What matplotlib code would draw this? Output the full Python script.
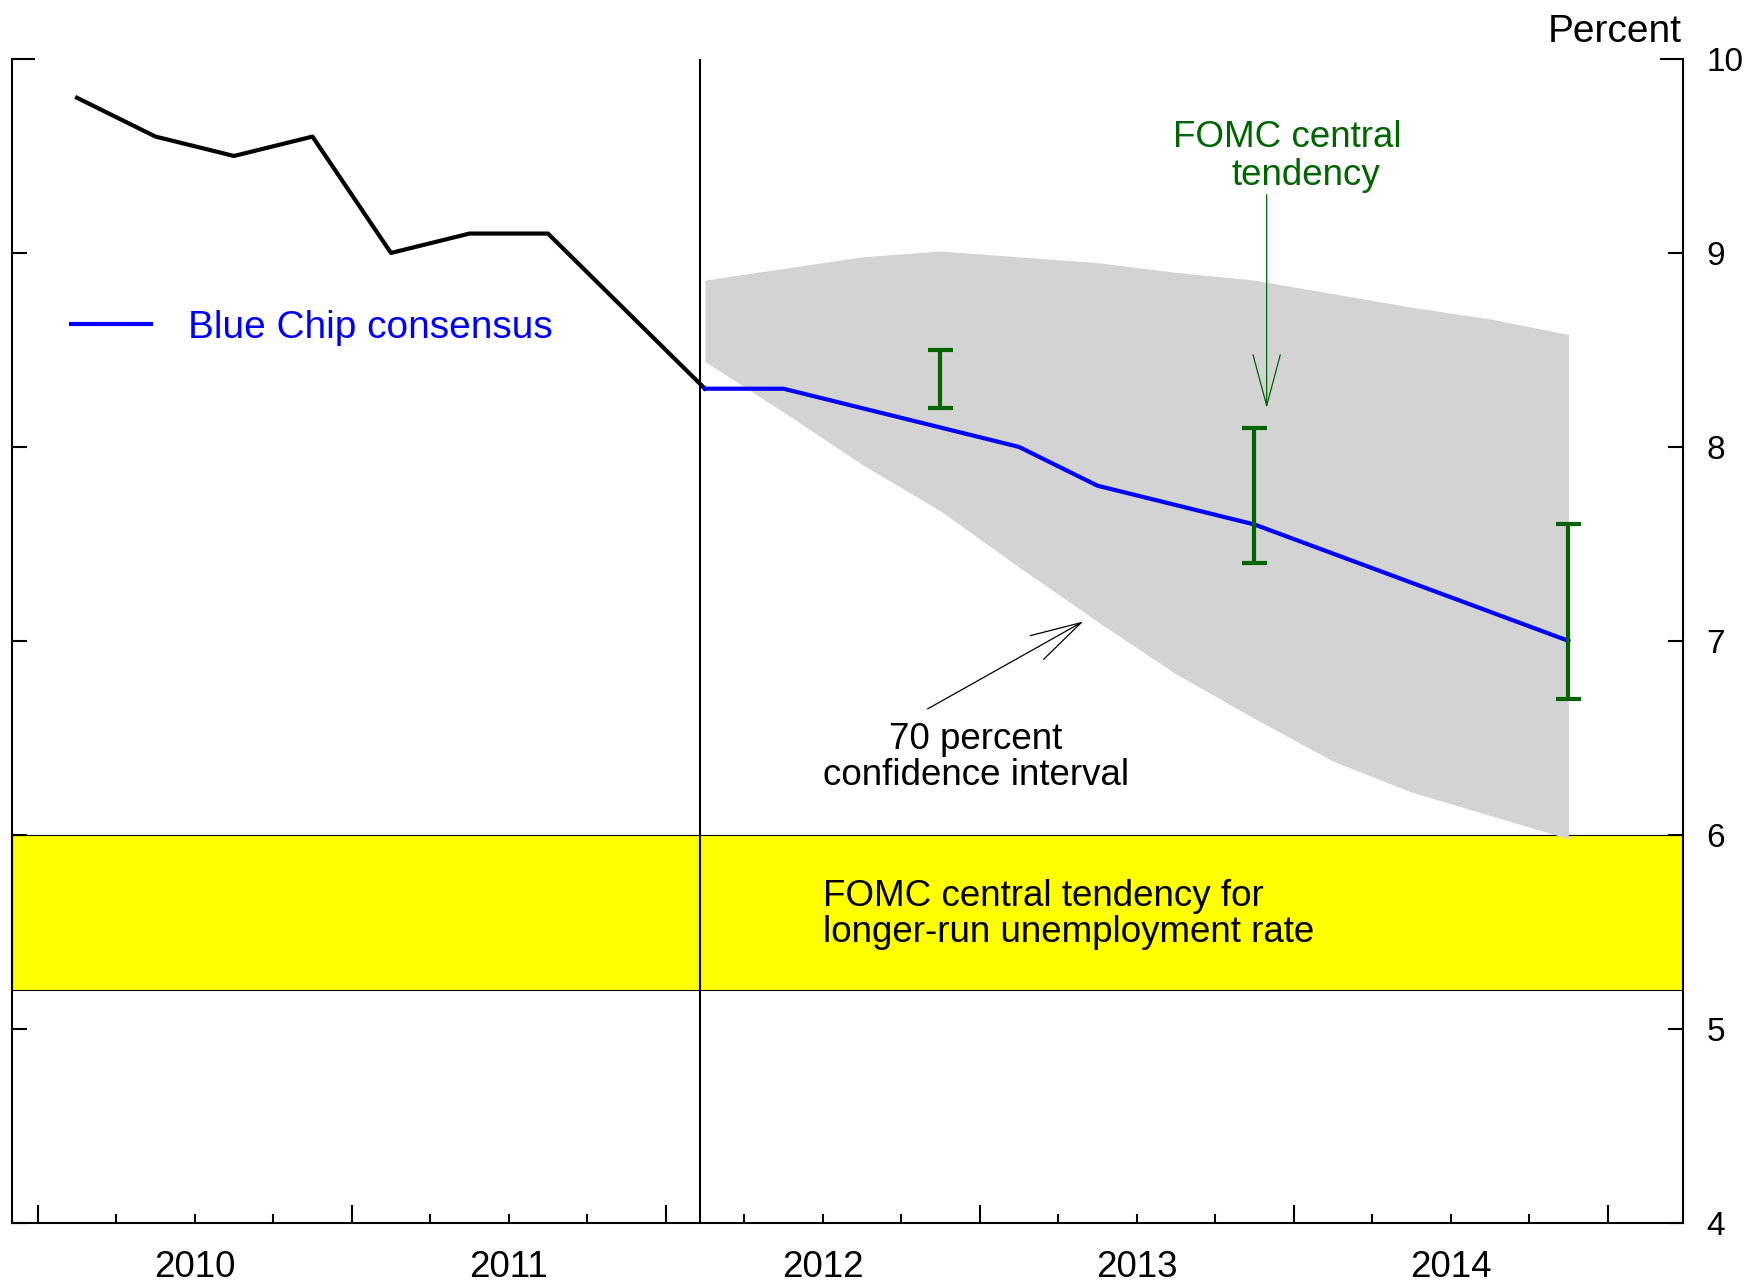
import matplotlib
matplotlib.use('Agg')
import matplotlib.pyplot as plt

plt.rcParams['font.family'] = ['Liberation Sans', 'DejaVu Sans']

# quarterly data, plotted at mid-quarter (fractional years)
hist_x = [2010.125, 2010.375, 2010.625, 2010.875, 2011.125, 2011.375,
          2011.625, 2011.875, 2012.125]
hist_y = [9.8, 9.6, 9.5, 9.6, 9.0, 9.1, 9.1, 8.7, 8.3]

fc_x = [2012.125, 2012.375, 2012.625, 2012.875, 2013.125, 2013.375,
        2013.625, 2013.875, 2014.125, 2014.375, 2014.625, 2014.875]
fc_y = [8.3, 8.3, 8.2, 8.1, 8.0, 7.8, 7.7, 7.6, 7.45, 7.3, 7.15, 7.0]
ci_upper = [8.86, 8.92, 8.98, 9.01, 8.98, 8.95, 8.90, 8.86, 8.79, 8.72, 8.66, 8.58]
ci_lower = [8.44, 8.18, 7.91, 7.67, 7.38, 7.10, 6.83, 6.60, 6.38, 6.22, 6.10, 5.98]

# FOMC central tendency ranges (Q4 of each year)
fomc_x = [2012.875, 2013.875, 2014.875]
fomc_lo = [8.2, 7.4, 6.7]
fomc_hi = [8.5, 8.1, 7.6]

longrun_lo, longrun_hi = 5.2, 6.0
last_obs = 2012.11
years = [2010, 2011, 2012, 2013, 2014]

green = '#006400'

fig = plt.figure(figsize=(17.6, 12.84), dpi=100)
ax = fig.add_axes([11.7 / 1760, 61.3 / 1284, 1671.3 / 1760, 1163.7 / 1284])
ax.set_xlim(2009.917, 2015.24)
ax.set_ylim(4, 10)

# longer-run band, confidence interval
ax.axhspan(longrun_lo, longrun_hi, facecolor='#FFFF00', edgecolor='black',
           lw=0.8, zorder=1)
ax.fill_between(fc_x, ci_lower, ci_upper, color='#D3D3D3', lw=0, zorder=2)
ax.axvline(last_obs, color='black', lw=1.5, zorder=3)

ax.plot(hist_x, hist_y, color='black', lw=3.0, zorder=4)
blue_line, = ax.plot(fc_x, fc_y, color='blue', lw=3.0, zorder=4,
                     label='Blue Chip consensus')

mid = [(lo + hi) / 2 for lo, hi in zip(fomc_lo, fomc_hi)]
half = [(hi - lo) / 2 for lo, hi in zip(fomc_lo, fomc_hi)]
ax.errorbar(fomc_x, mid, yerr=half, fmt='none', ecolor=green, elinewidth=3.0,
            capsize=9, capthick=3.0, zorder=5)

# axes styling
ax.spines['top'].set_visible(False)
for s in ['left', 'right', 'bottom']:
    ax.spines[s].set_linewidth(1.5)

ax.set_xticks(years + [2015])
ax.set_xticklabels([])
minor = [y + f for y in years for f in (0.25, 0.5, 0.75)]
ax.set_xticks(minor, minor=True)
ax.set_xticklabels([str(int(m)) if m % 1 == 0.5 else '' for m in minor], minor=True)
ax.tick_params(axis='x', which='major', direction='in', length=13, width=1.5)
ax.tick_params(axis='x', which='minor', direction='in', length=6.5, width=1.5,
               pad=19.5, labelsize=26.5)

ax.set_yticks([4, 5, 6, 7, 8, 9, 10])
ax.tick_params(axis='y', which='major', left=True, right=True, labelleft=False,
               labelright=True, direction='in', length=10.8, width=1.5,
               pad=17, labelsize=24)
top_tick = ax.yaxis.get_major_ticks()[-1]
top_tick.tick1line.set_markersize(16.5)
top_tick.tick2line.set_markersize(16.5)

fig.text(1682 / 1760, 1 - 41.7 / 1284, 'Percent', ha='right', va='baseline',
         fontsize=28)

ax.legend(handles=[blue_line], loc='center left', bbox_to_anchor=(0.0355, 0.769),
          frameon=False, borderpad=0, borderaxespad=0, handlelength=2.05,
          handletextpad=0.97, fontsize=28, labelcolor='blue')

arrow_style = '->,head_length=36.6,head_width=9.8'
ax.annotate('', xy=(2013.914, 8.20), xytext=(2013.914, 9.30),
            arrowprops=dict(arrowstyle=arrow_style, color=green, lw=0.9,
                            shrinkA=0, shrinkB=0, mutation_scale=1))
ax.text(2013.98, 9.548, 'FOMC central', color=green, fontsize=26.5,
        ha='center', va='baseline')
ax.text(2014.04, 9.35, 'tendency', color=green, fontsize=26.5,
        ha='center', va='baseline')

ax.annotate('', xy=(2013.33, 7.10), xytext=(2012.834, 6.649),
            arrowprops=dict(arrowstyle=arrow_style, color='black', lw=0.9,
                            shrinkA=0, shrinkB=0, mutation_scale=1))
# va='baseline' on multi-line text aligns the last line's baseline
ax.text(2012.988, 6.257, '70 percent\nconfidence interval', fontsize=26.5,
        ha='center', va='baseline', multialignment='center', linespacing=1.03)

ax.text(2012.5, 5.449, 'FOMC central tendency for\nlonger-run unemployment rate',
        fontsize=26.5, ha='left', va='baseline', linespacing=1.03, zorder=6)

fig.savefig('out.png', dpi=100)
